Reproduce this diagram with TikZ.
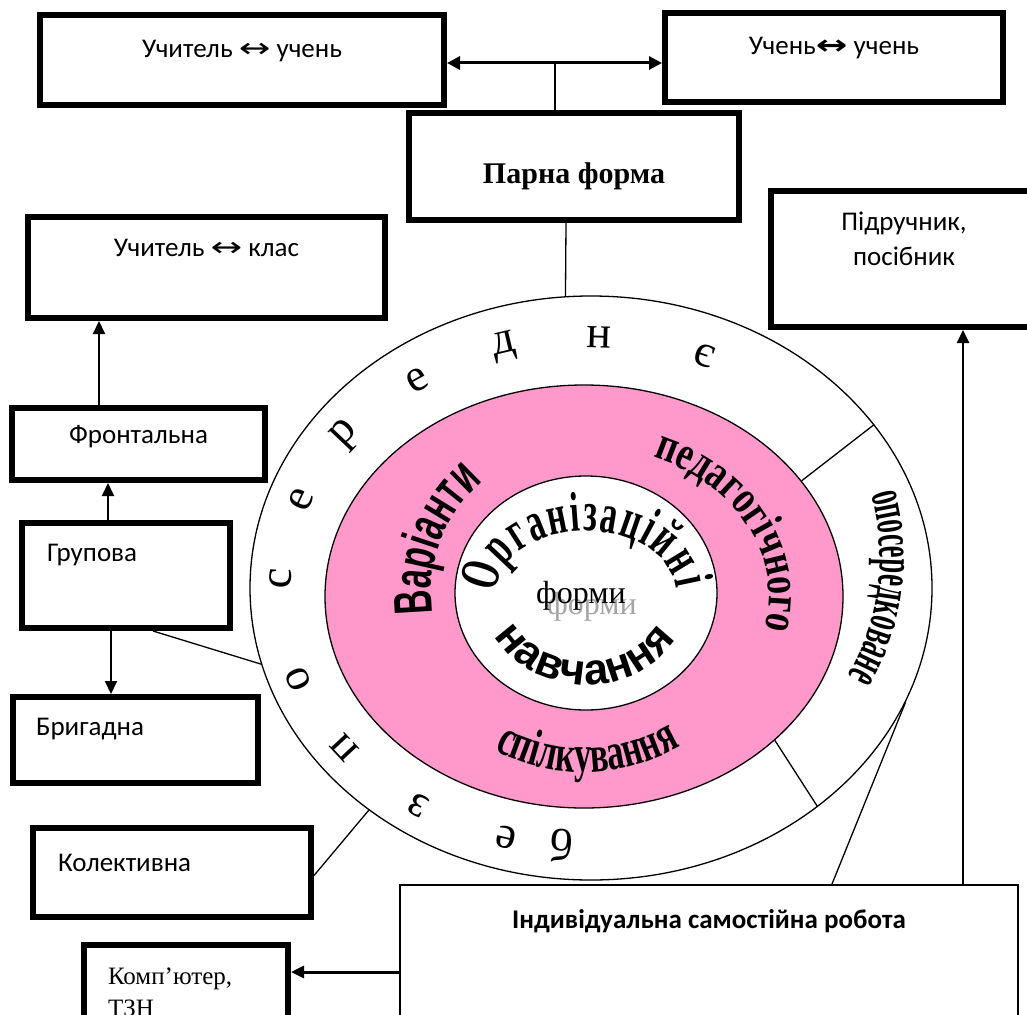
\documentclass[tikz,border=0pt]{standalone}
\usepackage{fontspec}
\usepackage{graphicx}
\setmainfont{Carlito}
\newfontfamily\tnr{Liberation Serif}
\newfontfamily\tnrb{Liberation Serif Bold}
\newfontfamily\dejavu{DejaVu Sans}
\newfontfamily\varfnt[FakeStretch=0.62]{Liberation Sans Bold}
\newfontfamily\pedfnt[FakeStretch=0.75]{Liberation Serif Bold}
\newfontfamily\spilfnt[FakeStretch=0.66]{Liberation Serif Bold}
\newfontfamily\oposfnt[FakeStretch=0.51]{Liberation Serif Bold}
\newfontfamily\orgfnt[FakeStretch=0.6]{Liberation Serif Bold}
\newfontfamily\navfnt{Liberation Sans Bold}
\usetikzlibrary{shapes.geometric,arrows.meta,decorations.text}
\definecolor{ringpink}{RGB}{255,153,204}
\definecolor{shadowgrey}{RGB}{165,165,165}
\begin{document}
\begin{tikzpicture}[x=1pt,y=1pt,
  box/.style={draw, fill=white, line width=6pt, inner sep=0pt, font=\fontsize{27}{32}\selectfont, text height=20pt},
  thinbox/.style={draw, fill=white, line width=2pt, inner sep=0pt, font=\bfseries\fontsize{27}{32}\selectfont, text height=20pt},
  conn/.style={line width=1.3pt},
  arr/.style={line width=2pt, -{Triangle[length=13pt,width=12pt]}},
  darr/.style={line width=3pt, {Triangle[length=13pt,width=13pt]}-{Triangle[length=13pt,width=13pt]}},
  ring/.style={ellipse, draw, line width=1.3pt, inner sep=0pt},
  ringletter/.style={font=\tnr\fontsize{46}{46}\selectfont, inner sep=0pt},
]
\clip (0,0) rectangle (1027,-1014);
\fill[white] (0,0) rectangle (1027,-1014);

% ---- ellipses
\node[ring, fill=white, minimum width=682pt, minimum height=584pt] (outer) at (591,-588) {};
\node[ring, fill=ringpink, minimum width=518pt, minimum height=423pt] (pink) at (584,-596.5) {};
\node[ring, fill=white, minimum width=262pt, minimum height=234pt] (inner) at (586,-593) {};
\draw[conn] (pink.28) -- (outer.30);
\draw[conn] (pink.323) -- (outer.316);

% ---- boxes
\node[box, minimum width=404pt, minimum height=90pt, text depth=24pt] (uu1) at (242,-60)
  {Учитель {\dejavu\scalebox{1.4}[1]{↔}} учень};
\node[box, minimum width=338pt, minimum height=89pt, text depth=25pt] (uu2) at (834,-57.5)
  {Учень{\dejavu\bfseries\scalebox{1.4}[1]{↔}} учень};
\node[box, minimum width=330pt, minimum height=107pt, font=\tnrb\fontsize{30}{34}\selectfont, text height=40pt, text depth=7pt] (parna) at (574,-166.5)
  {Парна форма};
\node[box, minimum width=357pt, minimum height=101pt, text depth=43pt] (ukl) at (206.5,-267.5)
  {Учитель {\dejavu\scalebox{1.4}[1]{↔}} клас};
\node[box, minimum width=253pt, minimum height=72pt, text depth=22pt] (front) at (138.5,-444)
  {Фронтальна};
\node[box, minimum width=208pt, minimum height=105pt, text width=158pt, align=left, text depth=49pt] (grup) at (126,-575.5)
  {Групова};
\node[box, minimum width=245pt, minimum height=86pt, text width=199pt, align=left, text depth=30pt] (brig) at (135.5,-740)
  {Бригадна};
\node[box, minimum width=278pt, minimum height=89pt, text width=228pt, align=left, text depth=23pt] (kol) at (172,-872.5)
  {Колективна};
\node[box, minimum width=204pt, minimum height=95pt, font=\tnr\fontsize{25}{32}\selectfont, text height=60pt, text depth=13pt] (komp) at (186,-992.5)
  {\parbox[b]{156pt}{\raggedright Комп’ютер,\\ТЗН}};
\node[box, minimum width=266pt, minimum height=136pt, font=\fontsize{27}{35}\selectfont, text height=60pt, text depth=48pt] (pidr) at (904,-259)
  {\parbox[b]{200pt}{\centering Підручник,\\посібник}};
\node[thinbox, minimum width=618pt, minimum height=155pt, text depth=89pt] (ind) at (709,-962.5)
  {Індивідуальна самостійна робота};

% ---- connectors
\coordinate (pj) at (555,-63);
\draw[darr] ([yshift=-3pt]uu1.east) -- ([yshift=-5.5pt]uu2.west);
\draw[conn] (parna.north -| pj) -- (pj);
\draw[conn] ([xshift=-8pt]parna.south) -- (outer.95);
\draw[arr] ([xshift=-39.5pt]front.north) -- ([xshift=-107.5pt]ukl.south);
\draw[arr] ([xshift=-18pt]grup.north) -- ([xshift=-30.5pt]front.south);
\draw[arr] ([xshift=-15pt]grup.south) -- ([xshift=-24.5pt]brig.north);
\draw[conn] ([xshift=27pt]grup.south) -- (outer.193);
\draw[conn] ([yshift=-3pt]kol.east) -- (outer.225);
\draw[arr, line width=3pt] ([yshift=-9.5pt]ind.west) -- ([yshift=20.5pt]komp.east);
\draw[arr, line width=2.5pt] ([xshift=254pt]ind.north) -- ([xshift=59pt]pidr.south);
\draw[conn] ([xshift=123pt]ind.north) -- (outer.340);

% ---- ring letters
\foreach \ch/\ang [count=\i] in {б/265, е/254.5, з/236.7, п/217.6, о/200, с/177, е/158.7, р/141.9, е/123.7, д/105.8, н/88, є/67.8}
  \node[ringletter, rotate={atan2(308*sin(\ang),255*cos(\ang))-90}] (rl\i) at ([shift={(588,-592)}]\ang:308 and 255) {\ch};

% ---- curved texts
\path[decorate, decoration={text along path, text align={fit to path},
  text={|\varfnt\fontsize{54}{54}\selectfont|Варіанти}}]
  ([shift={(586,-593)}]188:155 and 150) arc[start angle=188, end angle=132, x radius=155, y radius=150];
\path[decorate, decoration={text along path, text align={fit to path},
  text={|\pedfnt\fontsize{48}{48}\selectfont|педагогічного}}]
  ([shift={(584,-596)}]68:185 and 150) arc[start angle=68, end angle=-12, x radius=185, y radius=150];
\path[decorate, decoration={text along path, text align={fit to path},
  text={|\spilfnt\fontsize{52}{52}\selectfont|спілкування}}]
  ([shift={(584,-596)}]241:185 and 176) arc[start angle=241, end angle=301, x radius=185, y radius=176];
\path[decorate, decoration={text along path, text align={fit to path},
  text={|\oposfnt\fontsize{52}{52}\selectfont|опосередковане}}]
  ([shift={(648,-558)}]16:232) arc[start angle=16, end angle=-30, radius=232];
\path[decorate, decoration={text along path, text align={fit to path},
  text={|\orgfnt\fontsize{56}{56}\selectfont|Організаційні}}]
  ([shift={(586,-593)}]180:90 and 62) arc[start angle=180, end angle=4, x radius=90, y radius=62];
\path[decorate, decoration={text along path, text align={fit to path},
  text={|\navfnt\fontsize{44}{44}\selectfont|навчання}}]
  ([shift={(586,-593)}]208:104 and 92) arc[start angle=208, end angle=330, x radius=104, y radius=92];

\node[font=\tnr\fontsize{32}{32}\selectfont, text=shadowgrey, inner sep=0pt] (formsh) at (592,-607) {форми};
\node[font=\tnr\fontsize{32}{32}\selectfont, inner sep=0pt] (form) at (581,-596) {форми};
\end{tikzpicture}
\end{document}
